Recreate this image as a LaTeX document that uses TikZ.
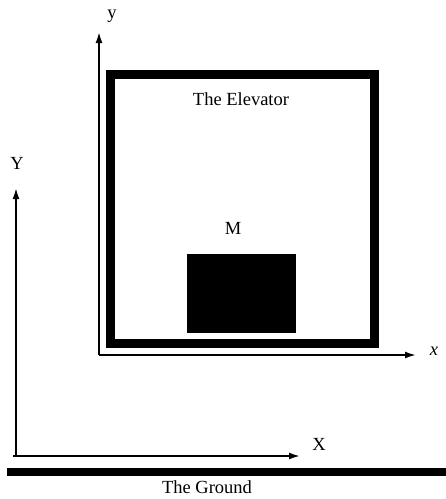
\documentclass[tikz,border=0pt]{standalone}
\usepackage{fontspec}
\setmainfont{Liberation Serif}
\usepackage{tikz}
\usetikzlibrary{arrows.meta,positioning}

\begin{document}
\begin{tikzpicture}[
    x=1pt, y=-1pt,
    axis/.style={-{Latex[length=11pt,width=7pt]}, line width=1.8pt},
    wall/.style={line width=9pt},
    lbl/.style={inner sep=0pt, font=\fontsize{18.5}{22}\selectfont},
    mass/.style={rectangle, fill=black, inner sep=0pt, minimum width=109pt, minimum height=79pt}
]
\useasboundingbox (0,0) rectangle (446,499);

% ground frame
\coordinate (O)  at (16,456);
\coordinate (Xe) at (300,456);
\coordinate (Ye) at (16,188);
\coordinate (Xs) at (13,456);
\draw[axis] (Xs) -- (Xe);
\draw[axis] (O) -- (Ye);
\node[lbl] (Xl) at (319,444) {X};
\node[lbl] (Yl) at (17,163) {Y};

% the ground
\fill (7,468) rectangle (446,476);
\node[lbl] (gnd) at (207,487) {The Ground};

% elevator frame
\coordinate (o)  at (99,355);
\coordinate (xe) at (416,355);
\coordinate (ye) at (99,32);
\draw[axis] (o) -- (xe);
\draw[axis] (o) -- (ye);
\node[lbl] (xl) at (434,351) {\itshape x};
\node[lbl] (yl) at (112,16) {y};

% the elevator
\draw[wall] (110,74) rectangle (374,343);
\node[lbl] (elev) at (241,99) {The Elevator};
\node[mass] (M) at (241.5,293.5) {};
\node[lbl] (Ml) at (233,228) {M};
\end{tikzpicture}
\end{document}
